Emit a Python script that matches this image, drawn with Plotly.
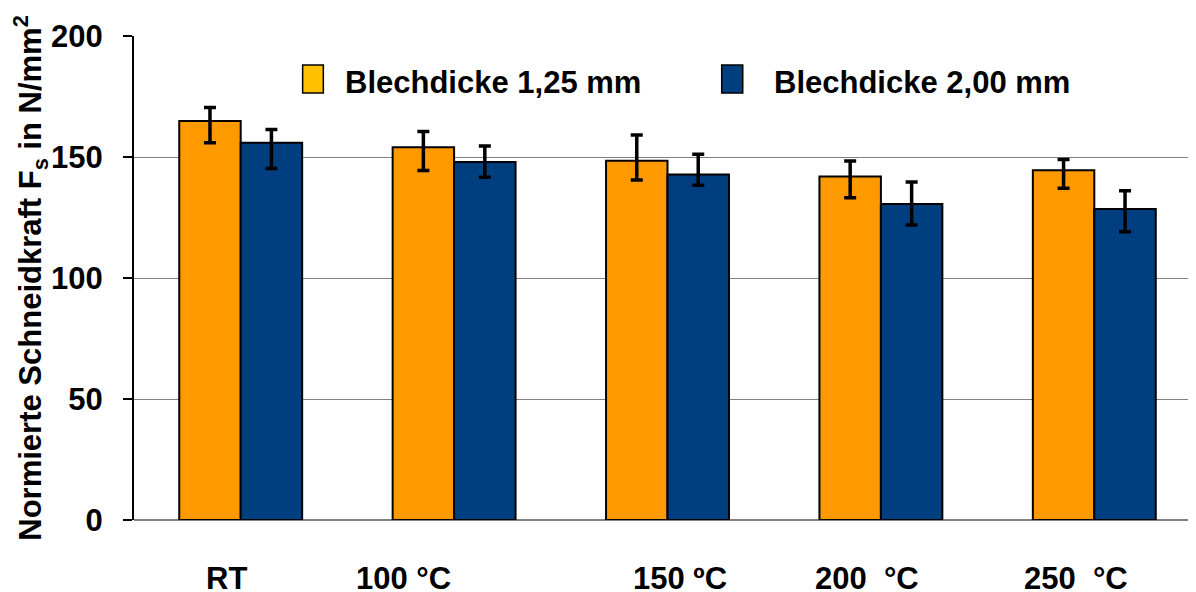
import plotly.graph_objects as go

categories = ["RT", "100 °C", "150 ºC", "200\u00a0 °C", "250\u00a0 °C"]
series_names = ["Blechdicke 1,25 mm", "Blechdicke 2,00 mm"]
values_125 = [164.9, 154.0, 148.5, 141.9, 144.5]
err_plus_125 = [5.6, 6.5, 10.6, 6.4, 4.5]
err_minus_125 = [9.0, 9.6, 8.0, 8.7, 7.4]
values_200 = [155.9, 147.9, 142.8, 130.6, 128.5]
err_plus_200 = [5.5, 6.6, 8.3, 9.1, 7.6]
err_minus_200 = [10.7, 6.3, 4.5, 8.7, 9.4]
y_ticks = [0, 50, 100, 150, 200]

bar_colors = ["#FF9900", "#003F7F"]
legend_colors = ["#FFC000", "#003F7F"]
FONT = "Liberation Sans, Arial, sans-serif"

x_idx = list(range(len(categories)))

fig = go.Figure()
for vals, ep, em, name, col in [
    (values_125, err_plus_125, err_minus_125, series_names[0], bar_colors[0]),
    (values_200, err_plus_200, err_minus_200, series_names[1], bar_colors[1]),
]:
    fig.add_trace(go.Bar(
        x=x_idx, y=vals, name=name, showlegend=False,
        marker=dict(color=col, line=dict(color="black", width=2)),
        error_y=dict(type="data", symmetric=False, array=ep, arrayminus=em,
                     color="black", thickness=3.5, width=6),
    ))

# page body has an 8px default margin; compensate
fig.update_layout(
    width=1188, height=584,
    margin=dict(l=126, r=0, t=28, b=72),
    paper_bgcolor="white", plot_bgcolor="white",
    barmode="group", bargap=0.424, bargroupgap=0,
    font=dict(family=FONT, size=31, color="black", weight="bold"),
    showlegend=False,
)
fig.update_xaxes(
    range=[-0.5, -0.5 + 1062 / 213.4],
    tickvals=x_idx, showticklabels=False, ticks="",
    showline=False, showgrid=False, zeroline=False,
)
fig.update_yaxes(
    range=[0, 200], tickvals=y_ticks,
    ticks="outside", ticklen=9, tickwidth=2, tickcolor="black",
    showline=True, linecolor="black", linewidth=2,
    showgrid=True, gridcolor="#808080", gridwidth=1,
    zeroline=True, zerolinecolor="#808080", zerolinewidth=1.5,
    ticklabelstandoff=14,
    tickfont=dict(size=31),
    title=dict(text="Normierte Schneidkraft F<sub>s</sub> in N/mm<sup>2</sup>",
               font=dict(size=31), standoff=14),
)

# category labels (slightly offset as in the original)
label_shifts = [-14, -51, 12, -14, -18]
for i, (cat, sh) in enumerate(zip(categories, label_shifts)):
    fig.add_annotation(x=i, y=0, xref="x", yref="paper", yshift=-58,
                       xshift=sh, text=cat, showarrow=False,
                       font=dict(size=31), xanchor="center", yanchor="middle")

# custom legend
leg = [
    (0.1588, 0.1783, 0.1968, legend_colors[0], series_names[0]),
    (0.5534, 0.5732, 0.6003, legend_colors[1], series_names[1]),
]
for x0, x1, xt, col, name in leg:
    fig.add_shape(type="rect", xref="paper", yref="paper",
                  x0=x0, x1=x1, y0=0.8822, y1=0.9401,
                  fillcolor=col, line=dict(color="black", width=1.5))
    fig.add_annotation(x=xt, y=0.903, xref="paper", yref="paper",
                       text=name, showarrow=False, xanchor="left",
                       yanchor="middle", font=dict(size=31))

fig.write_html("out.html")
